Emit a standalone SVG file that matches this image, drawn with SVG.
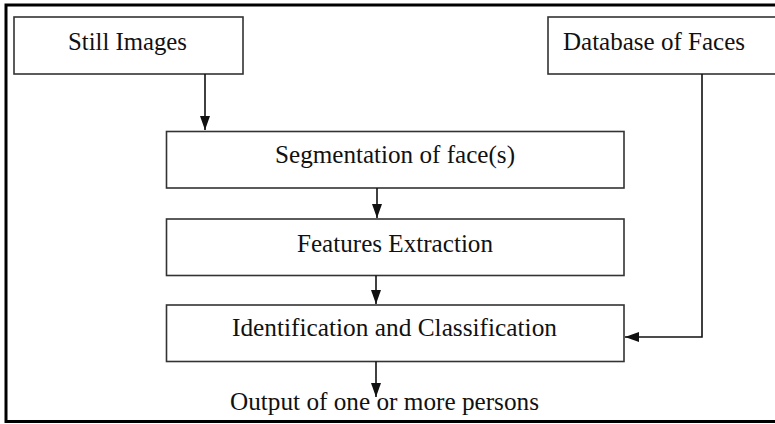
<svg xmlns="http://www.w3.org/2000/svg" width="775" height="424" viewBox="0 0 775 424">
  <style>
    .box { fill: #ffffff; stroke: #333333; stroke-width: 1.6; }
    .lbl { font-family: "Liberation Serif", "Times New Roman", serif; font-size: 25px; fill: #111111; }
    .wire { fill: none; stroke: #111111; stroke-width: 1.6; }
  </style>
  <defs>
    <marker id="head" markerUnits="userSpaceOnUse" markerWidth="14" markerHeight="12" viewBox="0 0 14 10" refX="14" refY="5" orient="auto">
      <path d="M0,0 L14,5 L0,10 Z" fill="#111111"/>
    </marker>
  </defs>

  <rect x="0" y="0" width="775" height="424" fill="#ffffff"/>
  <!-- outer frame -->
  <rect x="6" y="5" width="790" height="416.5" fill="none" stroke="#000000" stroke-width="3"/>

  <g id="still-images">
    <rect class="box" x="14" y="17" width="229" height="57"/>
    <text class="lbl" x="68" y="50" textLength="119" lengthAdjust="spacingAndGlyphs">Still Images</text>
  </g>

  <g id="database-of-faces">
    <rect class="box" x="548" y="17" width="240" height="57"/>
    <text class="lbl" x="563" y="50" textLength="182" lengthAdjust="spacingAndGlyphs">Database of Faces</text>
  </g>

  <g id="segmentation">
    <rect class="box" x="166.5" y="131.5" width="457.5" height="56.5"/>
    <text class="lbl" x="275" y="163" textLength="240" lengthAdjust="spacingAndGlyphs">Segmentation of face(s)</text>
  </g>

  <g id="features-extraction">
    <rect class="box" x="166.5" y="219" width="457.5" height="56.5"/>
    <text class="lbl" x="297" y="251.5" textLength="196" lengthAdjust="spacingAndGlyphs">Features Extraction</text>
  </g>

  <g id="identification">
    <rect class="box" x="166.5" y="305" width="457.5" height="56.5"/>
    <text class="lbl" x="232" y="336" textLength="325" lengthAdjust="spacingAndGlyphs">Identification and Classification</text>
  </g>

  <g id="output">
    <text class="lbl" x="230" y="410" textLength="309" lengthAdjust="spacingAndGlyphs">Output of one or more persons</text>
  </g>

  <g id="connectors">
    <line class="wire" x1="205" y1="74" x2="205" y2="130" marker-end="url(#head)"/>
    <line class="wire" x1="377" y1="188" x2="377" y2="218" marker-end="url(#head)"/>
    <line class="wire" x1="376" y1="275.5" x2="376" y2="304" marker-end="url(#head)"/>
    <line class="wire" x1="376" y1="361.5" x2="376" y2="397" marker-end="url(#head)"/>
    <polyline class="wire" points="702,74 702,337 625,337" marker-end="url(#head)"/>
  </g>
</svg>
